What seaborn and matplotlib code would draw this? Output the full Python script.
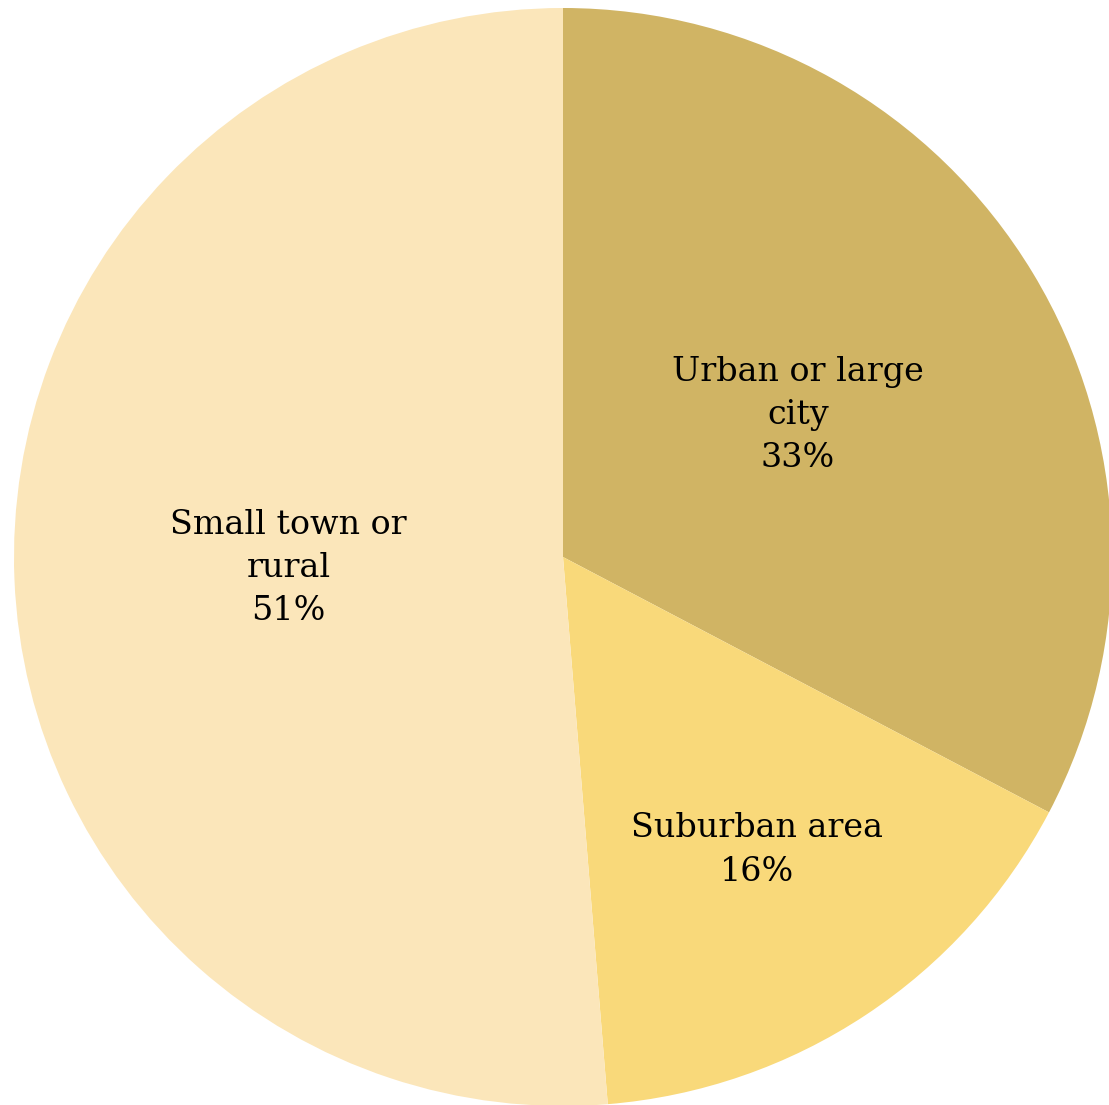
import numpy as np
import matplotlib
matplotlib.use('Agg')
import matplotlib.pyplot as plt
import seaborn as sns

# Share of respondents by community type
categories = ['Urban or large\ncity', 'Suburban area', 'Small town or\nrural']
shares = [32.7, 16.0, 51.3]
colors = ['#D0B464', '#F9D97A', '#FBE6BA']
label_dist = [0.50, 0.64, 0.50]

sns.set_theme(style='white')
plt.rcParams['font.family'] = ['DejaVu Serif', 'DejaVu Sans']

fig = plt.figure(figsize=(11.09, 11.05), dpi=100)
ax = fig.add_axes([0, 0, 1, 1])

wedges, _ = ax.pie(shares, colors=colors, startangle=90, counterclock=False,
                   radius=1, center=(0, 0), wedgeprops=dict(linewidth=0))

for w, cat, val, d in zip(wedges, categories, shares, label_dist):
    theta = np.deg2rad((w.theta1 + w.theta2) / 2)
    ax.text(d * np.cos(theta), d * np.sin(theta), f'{cat}\n{val:.0f}%',
            ha='center', va='center', fontsize=24, color='black',
            linespacing=1.45)

# frame so the pie sits where the reference has it
r_px = 549
ax.set_xlim(-563 / r_px, (1109 - 563) / r_px)
ax.set_ylim(1 + 8 / r_px - 1105 / r_px, 1 + 8 / r_px)
ax.set_aspect('auto')
ax.axis('off')

fig.savefig('out.png', dpi=100)
plt.close(fig)
